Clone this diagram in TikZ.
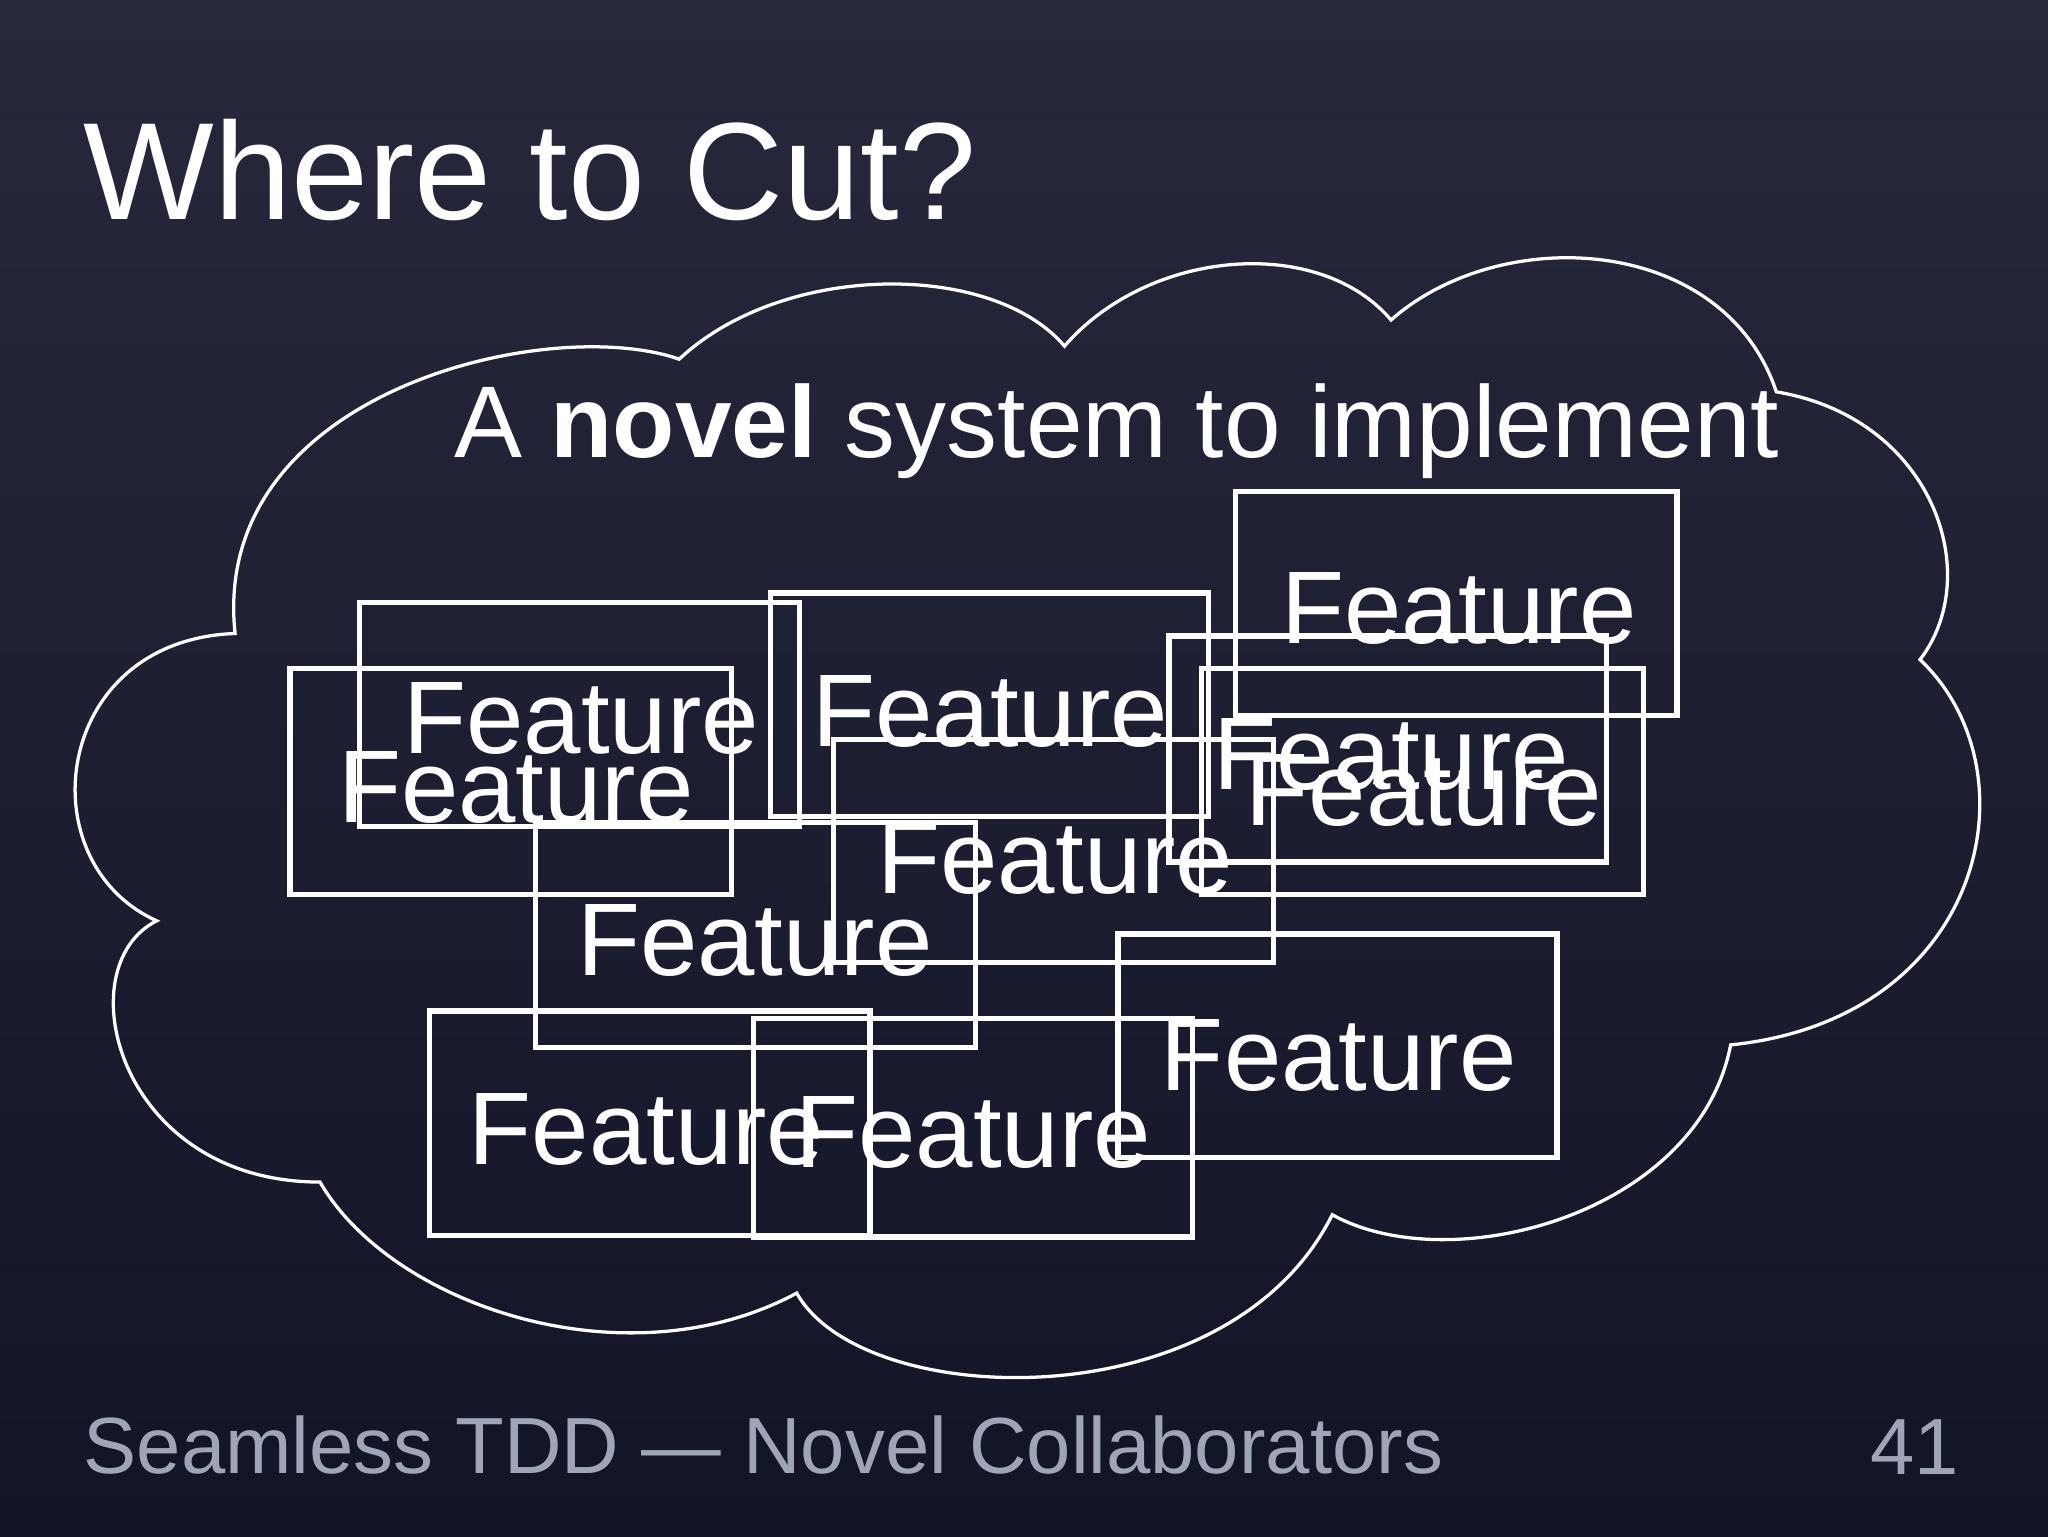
\documentclass[tikz,border=0pt]{standalone}
\usepackage{fontspec}
\setmainfont{Liberation Sans}
\begin{document}
\begin{tikzpicture}[x=1pt,y=-1pt,
  feat/.style={draw=white,line width=4pt},
  ftxt/.style={text=white,font=\fontsize{79}{82}\selectfont,inner sep=0pt}]
\shade[top color={rgb,255:red,40;green,40;blue,60},bottom color={rgb,255:red,20;green,20;blue,40}] (0,0) rectangle (1568,1176);
\useasboundingbox (0,0) rectangle (1568,1176);
\node[anchor=west,text=white,font=\fontsize{106}{112}\selectfont,inner sep=0pt] (title) at (64,130) {Where to Cut?};
\draw[white,line width=2.5pt] (180,485) .. controls (160,300) and (420,240) .. (520,275)
 .. controls (600,200) and (760,200) .. (815,265) .. controls (880,190) and (1010,180) .. (1065,245)
 .. controls (1150,170) and (1320,180) .. (1360,300) .. controls (1480,320) and (1520,440) .. (1470,505)
 .. controls (1560,590) and (1520,780) .. (1325,800) .. controls (1300,930) and (1110,980) .. (1020,930)
 .. controls (940,1090) and (660,1080) .. (610,990) .. controls (480,1060) and (300,1000) .. (245,905)
 .. controls (90,905) and (50,740) .. (120,705) .. controls (20,660) and (40,490) .. cycle;
\node[text=white,font=\fontsize{78}{84}\selectfont,inner sep=0pt] (sub) at (855,330) {A \textbf{novel} system to implement};
\draw[feat] (275,461) rectangle (612,633);
\draw[feat] (222,512) rectangle (560,685);
\draw[feat] (590,454) rectangle (925,625);
\draw[feat] (946,376) rectangle (1284,548);
\draw[feat] (895,487) rectangle (1230,660);
\draw[feat] (920,512) rectangle (1258,685);
\draw[feat] (638,566) rectangle (975,737);
\draw[feat] (410,630) rectangle (747,802);
\draw[feat] (856,715) rectangle (1192,886);
\draw[feat] (329,774) rectangle (666,946);
\draw[feat] (577,780) rectangle (913,947);
\node[ftxt] (f1) at (445,550) {Feature};
\node[ftxt] (f2) at (395,603) {Feature};
\node[ftxt] (f3) at (758,545) {Feature};
\node[ftxt] (f4) at (1117,466) {Feature};
\node[ftxt] (f5) at (1065,578) {Feature};
\node[ftxt] (f6) at (1090,605) {Feature};
\node[ftxt] (f7) at (808,657) {Feature};
\node[ftxt] (f8) at (578,720) {Feature};
\node[ftxt] (f9) at (1025,808) {Feature};
\node[ftxt] (f10) at (495,865) {Feature};
\node[ftxt] (f11) at (745,867) {Feature};
\node[anchor=west,text={rgb,255:red,160;green,164;blue,184},font=\fontsize{61}{66}\selectfont,inner sep=0pt] (foot) at (64,1106) {Seamless TDD — Novel Collaborators};
\node[anchor=east,text={rgb,255:red,160;green,164;blue,184},font=\fontsize{61}{66}\selectfont,inner sep=0pt] (num) at (1500,1108) {41};
\end{tikzpicture}
\end{document}
